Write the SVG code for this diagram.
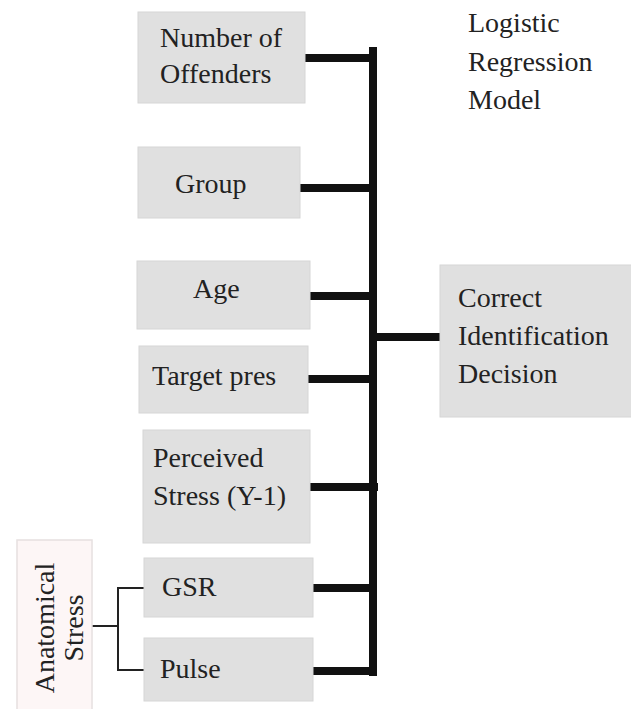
<svg xmlns="http://www.w3.org/2000/svg" width="631" height="709" viewBox="0 0 631 709">
<style>
.box{fill:#e0e0e0;stroke:#d6d6d6;stroke-width:1}
.abox{fill:#fdf6f6;stroke:#e6e0e0;stroke-width:1.5}
.t{font-family:'Liberation Serif','Times New Roman','Tinos','DejaVu Serif',serif;font-size:28px;fill:#222}
.thick{stroke:#111;stroke-width:8;fill:none}
.thin{stroke:#222;stroke-width:2;fill:none}
</style>
<rect width="631" height="709" fill="#ffffff"/>
<g id="title">
<text class="t" x="468" y="32">Logistic</text>
<text class="t" x="468" y="71">Regression</text>
<text class="t" x="468" y="109">Model</text>
</g>
<g id="connectors">
<line class="thick" x1="373" y1="47" x2="373" y2="676" stroke-width="7"/>
<line class="thick" x1="305" y1="58" x2="376" y2="58"/>
<line class="thick" x1="300" y1="188" x2="376" y2="188"/>
<line class="thick" x1="310" y1="296" x2="376" y2="296"/>
<line class="thick" x1="308" y1="379" x2="376" y2="379"/>
<line class="thick" x1="310" y1="487" x2="378" y2="487"/>
<line class="thick" x1="313" y1="588" x2="376" y2="588"/>
<line class="thick" x1="313" y1="671" x2="376" y2="671"/>
<line class="thick" x1="373" y1="337" x2="440" y2="337"/>
<polyline class="thin" points="92,626 118,626"/>
<polyline class="thin" points="145,588 118,588 118,670 145,670"/>
</g>
<g id="n-offenders">
<rect class="box" x="138" y="12" width="167" height="91"/>
<text class="t" x="160" y="47">Number of</text>
<text class="t" x="160" y="83">Offenders</text>
</g>
<g id="n-group">
<rect class="box" x="138" y="147" width="162" height="71"/>
<text class="t" x="175" y="193">Group</text>
</g>
<g id="n-age">
<rect class="box" x="137" y="261" width="173" height="68"/>
<text class="t" x="193" y="298">Age</text>
</g>
<g id="n-target">
<rect class="box" x="139" y="346" width="169" height="67"/>
<text class="t" x="152" y="385">Target pres</text>
</g>
<g id="n-perceived">
<rect class="box" x="143" y="430" width="167" height="113"/>
<text class="t" x="153" y="467">Perceived</text>
<text class="t" x="153" y="505">Stress (Y-1)</text>
</g>
<g id="n-gsr">
<rect class="box" x="144" y="558" width="169" height="59"/>
<text class="t" x="162" y="596">GSR</text>
</g>
<g id="n-pulse">
<rect class="box" x="144" y="638" width="169" height="63"/>
<text class="t" x="160" y="678">Pulse</text>
</g>
<g id="n-anatomical">
<rect class="abox" x="17" y="540" width="75" height="175"/>
<text class="t" transform="translate(54,628) rotate(-90)" text-anchor="middle">Anatomical</text>
<text class="t" transform="translate(83,628) rotate(-90)" text-anchor="middle">Stress</text>
</g>
<g id="n-decision">
<rect class="box" x="440" y="265" width="195" height="152"/>
<text class="t" x="458" y="307">Correct</text>
<text class="t" x="458" y="345">Identification</text>
<text class="t" x="458" y="383">Decision</text>
</g>
</svg>
